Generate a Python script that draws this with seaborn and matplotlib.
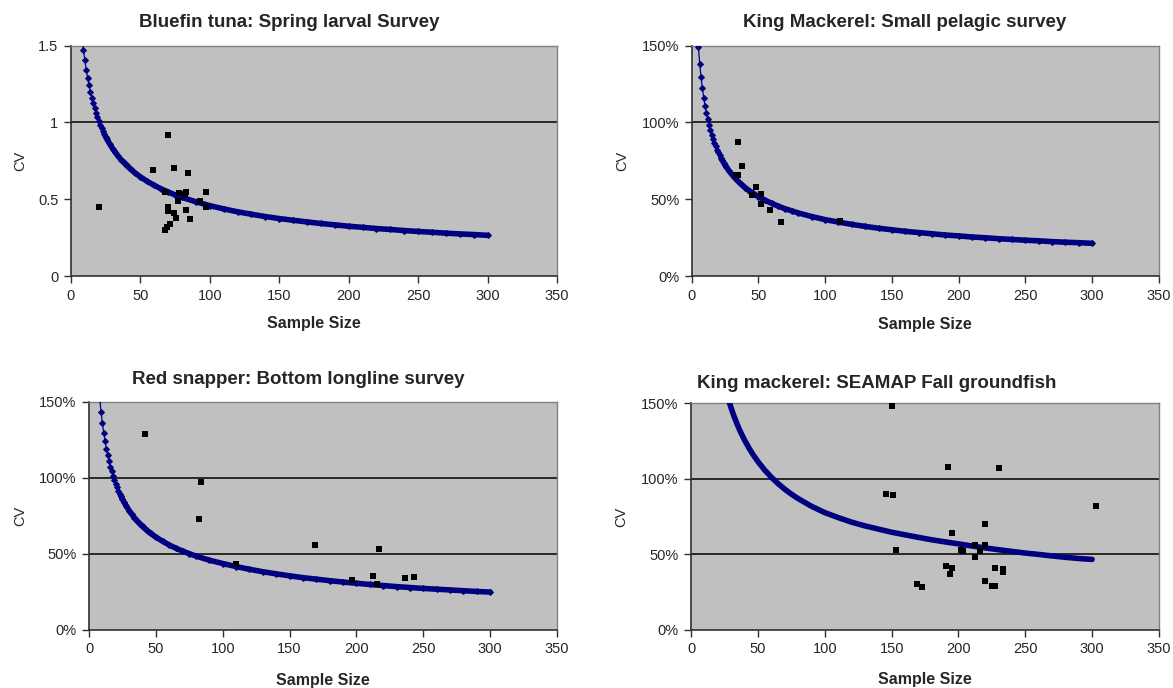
import matplotlib
matplotlib.use('Agg')
import pandas as pd
import matplotlib.pyplot as plt
from matplotlib.ticker import PercentFormatter, FuncFormatter
import seaborn as sns

sns.set_style('white')
plt.rcParams['font.family'] = ['Liberation Sans', 'DejaVu Sans']

# ---- Bluefin tuna: Spring larval Survey ----
bft_curve_n = [8, 9, 10, 11, 12, 13, 14, 15, 16, 17, 18, 19, 20, 21, 22, 23, 24, 25, 26, 28, 30,
               32, 34, 36, 38, 40, 43, 46, 50, 55, 60, 65, 70, 75, 80, 90, 100, 110, 120, 130,
               140, 150, 160, 170, 180, 190, 200, 210, 220, 230, 240, 250, 260, 270, 280, 290, 300]
bft_curve_cv = [1.556, 1.474, 1.404, 1.343, 1.289, 1.241, 1.198, 1.159, 1.124, 1.092, 1.062, 1.035,
                1.010, 0.986, 0.964, 0.944, 0.924, 0.906, 0.889, 0.858, 0.829, 0.804, 0.780, 0.758,
                0.739, 0.720, 0.695, 0.672, 0.645, 0.616, 0.590, 0.567, 0.547, 0.528, 0.512, 0.483,
                0.458, 0.437, 0.418, 0.402, 0.387, 0.374, 0.363, 0.352, 0.342, 0.333, 0.324, 0.317,
                0.309, 0.303, 0.296, 0.290, 0.285, 0.279, 0.274, 0.270, 0.265]
bft_obs_n = [20, 70, 59, 74, 84, 68, 78, 83, 82, 97, 77, 93, 97, 70, 70, 74, 76, 83, 86, 71, 68, 69]
bft_obs_cv = [0.45, 0.92, 0.69, 0.70, 0.67, 0.55, 0.54, 0.55, 0.535, 0.55, 0.49, 0.49, 0.45, 0.45,
              0.42, 0.41, 0.38, 0.43, 0.37, 0.34, 0.30, 0.32]

# ---- King Mackerel: Small pelagic survey ----
kms_curve_n = [5, 6, 7, 8, 9, 10, 11, 12, 13, 14, 15, 16, 17, 18, 19, 20, 21, 22, 23, 24, 25, 26,
               28, 30, 32, 34, 36, 38, 40, 43, 46, 50, 55, 60, 65, 70, 75, 80, 90, 100, 110, 120,
               130, 140, 150, 160, 170, 180, 190, 200, 210, 220, 230, 240, 250, 260, 270, 280, 290, 300]
kms_curve_cv = [1.490, 1.382, 1.295, 1.222, 1.160, 1.107, 1.060, 1.019, 0.983, 0.950, 0.920, 0.893,
                0.868, 0.845, 0.823, 0.804, 0.785, 0.768, 0.752, 0.737, 0.723, 0.709, 0.685, 0.662,
                0.642, 0.623, 0.606, 0.591, 0.576, 0.556, 0.538, 0.517, 0.493, 0.473, 0.454, 0.438,
                0.424, 0.410, 0.387, 0.367, 0.351, 0.336, 0.323, 0.311, 0.301, 0.291, 0.283, 0.275,
                0.267, 0.261, 0.254, 0.249, 0.243, 0.238, 0.233, 0.229, 0.224, 0.220, 0.217, 0.213]
kms_obs_n = [35, 38, 33, 35, 48, 45, 52, 52, 59, 67, 111]
kms_obs_cv = [0.87, 0.715, 0.655, 0.66, 0.58, 0.53, 0.535, 0.47, 0.43, 0.35, 0.355]

# ---- Red snapper: Bottom longline survey ----
rs_curve_n = [8, 9, 10, 11, 12, 13, 14, 15, 16, 17, 18, 19, 20, 21, 22, 23, 24, 25, 26, 28, 30,
              32, 34, 36, 38, 40, 43, 46, 50, 55, 60, 65, 70, 75, 80, 90, 100, 110, 120, 130,
              140, 150, 160, 170, 180, 190, 200, 210, 220, 230, 240, 250, 260, 270, 280, 290, 300]
rs_curve_cv = [1.52, 1.433, 1.36, 1.296, 1.241, 1.193, 1.149, 1.11, 1.075, 1.043, 1.014, 0.986,
               0.962, 0.938, 0.917, 0.897, 0.878, 0.86, 0.843, 0.813, 0.785, 0.76, 0.737, 0.717,
               0.698, 0.68, 0.656, 0.634, 0.61, 0.583, 0.558, 0.537, 0.518, 0.501, 0.485, 0.458,
               0.436, 0.416, 0.398, 0.382, 0.368, 0.355, 0.343, 0.333, 0.323, 0.314, 0.306, 0.298,
               0.291, 0.284, 0.278, 0.272, 0.267, 0.262, 0.257, 0.252, 0.248]
rs_obs_n = [42, 84, 82, 110, 169, 197, 212, 215, 217, 236, 243]
rs_obs_cv = [1.29, 0.97, 0.73, 0.435, 0.556, 0.325, 0.356, 0.30, 0.53, 0.34, 0.347]

# ---- King mackerel: SEAMAP Fall groundfish ----
kmf_curve_n = [28, 29, 30, 32, 34, 36, 38, 40, 43, 46, 50, 55, 60, 65, 70, 75, 80, 90, 100, 110,
               120, 130, 140, 150, 160, 170, 180, 190, 200, 210, 220, 230, 240, 250, 260, 270,
               280, 290, 300]
kmf_curve_cv = [1.52, 1.493, 1.465, 1.415, 1.370, 1.328, 1.290, 1.255, 1.207, 1.164, 1.113, 1.058,
                1.010, 0.968, 0.931, 0.898, 0.869, 0.818, 0.776, 0.743, 0.713, 0.688, 0.667, 0.646,
                0.629, 0.612, 0.596, 0.582, 0.569, 0.555, 0.542, 0.530, 0.519, 0.508, 0.499, 0.489,
                0.480, 0.472, 0.466]
kmf_obs_n = [150, 192, 230, 146, 151, 153, 220, 195, 202, 203, 212, 220, 216, 212, 191, 195, 194,
             227, 233, 233, 169, 173, 220, 225, 227, 303]
kmf_obs_cv = [1.48, 1.08, 1.07, 0.90, 0.89, 0.53, 0.70, 0.64, 0.53, 0.52, 0.56, 0.56, 0.52, 0.48,
              0.42, 0.41, 0.37, 0.41, 0.38, 0.40, 0.30, 0.28, 0.32, 0.29, 0.29, 0.82]

NAVY = '#000080'

fig = plt.figure(figsize=(11.73, 6.88), dpi=100)


def draw_panel(rect, curve_n, curve_cv, obs_n, obs_cv, title, title_xy, grid_levels,
               pct, ylab_x, xlab_y, thick_from, markers=True):
    ax = fig.add_axes(rect)
    ax.set_facecolor('#c0c0c0')
    for lvl in grid_levels:
        ax.axhline(lvl, color='black', lw=1.1, zorder=1)

    curve = pd.DataFrame({'n': curve_n, 'cv': curve_cv})
    if markers:
        # thin line with small diamonds (visible at the steep start)
        sns.lineplot(data=curve, x='n', y='cv', color=NAVY, lw=0.9, marker='D', markersize=3.0,
                     markeredgecolor=NAVY, ax=ax, zorder=3)
    thick = curve[curve['n'] >= thick_from]
    sns.lineplot(data=thick, x='n', y='cv', color=NAVY, lw=4.0, solid_capstyle='round',
                 solid_joinstyle='round', ax=ax, zorder=3)

    sns.scatterplot(x=obs_n, y=obs_cv, marker='s', s=24, color='black', linewidth=0,
                    ax=ax, zorder=4)

    ax.set_xlim(0, 350)
    ax.set_ylim(0, 1.5)
    ax.set_xticks(range(0, 351, 50))
    ax.set_yticks([0, 0.5, 1.0, 1.5])
    if pct:
        ax.yaxis.set_major_formatter(PercentFormatter(xmax=1, decimals=0))
    else:
        ax.yaxis.set_major_formatter(FuncFormatter(lambda v, p: '{:g}'.format(v)))

    for side in ['left', 'bottom']:
        ax.spines[side].set_color('#303030')
        ax.spines[side].set_linewidth(1.2)
    for side in ['top', 'right']:
        ax.spines[side].set_color('#808080')
        ax.spines[side].set_linewidth(1.0)
    ax.tick_params(direction='out', length=5, width=1, color='#303030', labelsize=10.5,
                   pad=4, bottom=True, left=True)

    ax.set_xlabel('Sample Size', fontsize=11.5, fontweight='bold')
    ax.xaxis.set_label_coords(0.5, xlab_y)
    ax.xaxis.label.set_va('center')
    ax.set_ylabel('CV', fontsize=10.5)
    ax.yaxis.set_label_coords(ylab_x, 0.5)
    ax.yaxis.label.set_va('center')

    ax.text(title_xy[0], title_xy[1], title, transform=ax.transAxes, ha='center', va='center',
            fontsize=13.5, fontweight='bold')
    return ax


draw_panel([0.0605, 0.5988, 0.4143, 0.335], bft_curve_n, bft_curve_cv, bft_obs_n, bft_obs_cv,
           'Bluefin tuna: Spring larval Survey', (0.449, 1.10), [1.0], False, -0.105, -0.205, 24)
draw_panel([0.5897, 0.5988, 0.3981, 0.335], kms_curve_n, kms_curve_cv, kms_obs_n, kms_obs_cv,
           'King Mackerel: Small pelagic survey', (0.457, 1.10), [1.0], True, -0.148, -0.21, 22)
draw_panel([0.0759, 0.0847, 0.399, 0.331], rs_curve_n, rs_curve_cv, rs_obs_n, rs_obs_cv,
           'Red snapper: Bottom longline survey', (0.447, 1.097), [1.0, 0.5], True, -0.147, -0.221, 24)
draw_panel([0.5893, 0.0847, 0.3987, 0.329], kmf_curve_n, kmf_curve_cv, kmf_obs_n, kmf_obs_cv,
           'King mackerel: SEAMAP Fall groundfish', (0.397, 1.088), [1.0, 0.5], True, -0.149, -0.222,
           0, markers=False)

fig.savefig('out.png', dpi=100)
